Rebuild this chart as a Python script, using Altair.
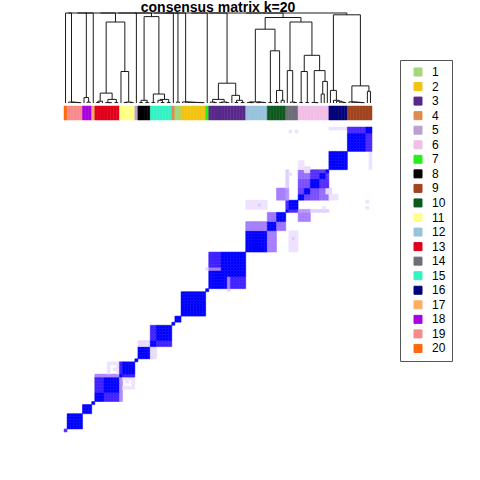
import altair as alt
import numpy as np
import pandas as pd

# ---------------- data ----------------
title_text = "consensus matrix k=20"
cluster_order = [20, 19, 18, 17, 13, 11, 5, 8, 15, 4, 1, 2, 7, 3, 12, 10, 14, 6, 16, 9]
cluster_sizes = [1, 5, 3, 1, 8, 5, 1, 4, 7, 1, 2, 8, 1, 12, 7, 6, 4, 10, 6, 8]

legend_ids = [str(i) for i in range(1, 21)]
legend_colors = ["#A4D67C", "#F2C311", "#58298B", "#DD8B4F", "#BBA0D2",
                 "#F2BEE6", "#27EE1B", "#000000", "#A1441F", "#0E5A1E",
                 "#FFFF88", "#99C3DD", "#E0001B", "#6E6E78", "#34F2C3",
                 "#03037A", "#FCAE62", "#A800E0", "#F88A8A", "#FF6A0B"]

# off-block / partial consensus patches: (row_from, row_to, col_from, col_to, value), symmetric
patches = [
    (0, 0, 0, 0, 0.85),
    (10, 12, 13, 17, 0.93),
    (18, 18, 10, 17, 0.50),
    (18, 18, 19, 22, 0.93),
    (19, 22, 14, 14, 0.12),
    (22, 22, 15, 17, 0.12),
    (20, 20, 16, 16, 0.12),
    (19, 21, 17, 17, 0.12),
    (28, 29, 24, 27, 0.15),
    (28, 29, 30, 34, 0.93),
    (54, 58, 47, 50, 0.93),
    (53, 53, 47, 50, 0.55),
    (53, 53, 46, 46, 0.15),
    (66, 68, 59, 65, 0.55),
    (69, 71, 66, 68, 0.60),
    (73, 75, 59, 65, 0.12),
    (74, 74, 63, 63, 0.22),
    (72, 72, 73, 75, 0.90),
    (76, 83, 72, 72, 0.45),
    (80, 85, 72, 72, 0.20),
    (76, 79, 69, 71, 0.55),
    (76, 77, 78, 79, 0.80),
    (80, 82, 76, 79, 0.75),
    (83, 85, 76, 79, 0.62),
    (83, 85, 80, 82, 0.88),
    (85, 85, 83, 84, 0.85),
    (85, 86, 78, 79, 0.15),
    (86, 88, 76, 77, 0.12),
    (84, 84, 73, 73, 0.12),
    (92, 97, 98, 99, 0.90),
    (99, 99, 86, 91, 0.12),
    (98, 98, 73, 73, 0.12),
    (98, 98, 75, 75, 0.12),
]

# dendrogram: leaf = 0, node = [height, left, right]
C20 = 0
C19 = [0.01, 0, [0.008, 0, [0.006, 0, [0.004, 0, 0]]]]
C18 = [0.06, 0, [0.01, 0, 0]]
C17 = 0
C13 = [0.11, [0.02, [0.005, 0, 0], 0], [0.04, [0.005, 0, [0.004, 0, 0]], [0.005, 0, 0]]]
C11 = [0.35, 0, [0.01, [0.005, 0, 0], [0.005, 0, 0]]]
C13_11 = [0.90, C13, C11]
C5 = 0
C8 = [0.03, [0.005, 0, 0], [0.005, 0, 0]]
C15 = [0.10, [0.005, 0, 0], [0.04, [0.03, 0, [0.005, 0, 0]], [0.005, 0, 0]]]
C8_15 = [0.96, C8, C15]
C4 = 0
C1 = [0.01, 0, 0]
C2 = [0.012, 0, [0.010, 0, [0.008, 0, [0.007, 0, [0.006, 0, [0.005, 0, [0.004, 0, 0]]]]]]]
C7 = 0
C3 = [0.22, [0.04, [0.01, 0, [0.005, 0, 0]], [0.01, [0.005, 0, 0], [0.005, 0, 0]]],
      [0.085, 0, [0.03, [0.005, 0, 0], [0.005, 0, 0]]]]
C12 = [0.012, [0.006, 0, [0.004, 0, 0]], [0.008, [0.004, 0, 0], [0.005, 0, 0]]]
C10 = [0.58, [0.005, 0, 0], [0.14, [0.005, 0, 0], [0.03, 0, 0]]]
C12_10 = [0.82, C12, C10]
C14 = [0.36, 0, [0.01, 0, [0.005, 0, 0]]]
C6 = [0.53, [0.35, [0.005, 0, 0], [0.005, 0, 0]],
      [0.36, [0.006, 0, [0.004, 0, 0]], [0.24, [0.10, 0, 0], 0]]]
C14_6 = [0.90, C14, C6]
G4 = [0.95, C12_10, C14_6]
C16 = [0.14, 0, [0.03, 0, [0.02, 0, [0.01, 0, [0.005, 0, 0]]]]]
C9 = [0.19, [0.012, 0, [0.01, 0, [0.008, 0, [0.006, 0, [0.004, 0, 0]]]]], [0.13, 0, 0]]
C16_9 = [0.98, C16, C9]
top_groups = [C20, C19, C18, C17, C13_11, C5, C8_15, C4, C1, C2, C7, C3, G4, C16_9]
root_height = 1.0

# ---------------- layout constants ----------------
N = sum(cluster_sizes)
PLOT_W, PLOT_H = 308, 419          # plot area (x 64..372, y 13..432)
HEAT_PX = 305                       # heatmap height in px
DEND_PX = 90                        # dendrogram height (h 0..1) in px

# ---------------- build tables ----------------
labels = []
for c, s in zip(cluster_order, cluster_sizes):
    labels += [c] * s

M = np.zeros((N, N))
start = 0
for s in cluster_sizes:
    M[start:start + s, start:start + s] = 1.0
    start += s
for r0, r1, c0, c1, v in patches:
    M[r0:r1 + 1, c0:c1 + 1] = v
    M[c0:c1 + 1, r0:r1 + 1] = v

cells = [dict(j0=j, j1=j + 1, i0=i, i1=i + 1, v=float(M[i, j]))
         for i in range(N) for j in range(N) if M[i, j] > 0]
cells_df = pd.DataFrame(cells)

bar_df = pd.DataFrame(dict(s0=list(range(N)), s1=[k + 1 for k in range(N)],
                           cl=[str(c) for c in labels]))

root = top_groups[0]
for g in top_groups[1:]:
    root = [root_height, root, g]

segs = []
counter = [0]


def layout(node):
    if not isinstance(node, list):
        p = counter[0] + 0.5
        counter[0] += 1
        return p, 0.0
    h, a, b = node
    pa, ha = layout(a)
    pb, hb = layout(b)
    segs.append(dict(x=pa, x2=pb, y=h, y2=h))
    segs.append(dict(x=pa, x2=pa, y=ha, y2=h))
    segs.append(dict(x=pb, x2=pb, y=hb, y2=h))
    return (pa + pb) / 2, h


layout(root)
assert counter[0] == N
seg_df = pd.DataFrame(segs)

# ---------------- chart ----------------
xscale = alt.Scale(domain=[0, N], nice=False, zero=False)
heat_scale = alt.Scale(domain=[0, 1], range=["#ffffff", "#0000ff"], interpolate="lab")

heat = alt.Chart(cells_df).mark_rect(strokeWidth=0.5).encode(
    x=alt.X("j0:Q", scale=xscale, axis=None),
    x2="j1:Q",
    y=alt.Y("i0:Q", scale=alt.Scale(domain=[0, N * PLOT_H / HEAT_PX], nice=False, zero=False), axis=None),
    y2="i1:Q",
    color=alt.Color("v:Q", scale=heat_scale, legend=None),
    stroke=alt.Stroke("v:Q", scale=heat_scale, legend=None),
)

bar = alt.Chart(bar_df).mark_rect(strokeWidth=0.5).encode(
    x=alt.X("s0:Q", scale=xscale, axis=None),
    x2="s1:Q",
    y=alt.value(93),
    y2=alt.value(107),
    color=alt.Color("cl:N", scale=alt.Scale(domain=legend_ids, range=legend_colors),
                    title=None,
                    legend=alt.Legend(orient="none", legendX=336, legendY=47,
                                      direction="vertical", symbolType="square",
                                      symbolSize=64, symbolStrokeColor="#333333",
                                      symbolStrokeWidth=1, labelFont="Liberation Sans",
                                      labelFontSize=12, labelColor="black",
                                      labelOffset=8, symbolOffset=6, padding=6,
                                      rowPadding=2.55, strokeColor="#555555",
                                      fillColor="white")),
    stroke=alt.Stroke("cl:N", scale=alt.Scale(domain=legend_ids, range=legend_colors), legend=None),
)

dend = alt.Chart(seg_df).mark_rule(color="#1a1a1a", strokeWidth=1).encode(
    x=alt.X("x:Q", scale=xscale, axis=None),
    x2="x2:Q",
    y=alt.Y("y:Q", scale=alt.Scale(domain=[1 - PLOT_H / DEND_PX, 1], nice=False, zero=False), axis=None),
    y2="y2:Q",
)

title = alt.Chart(pd.DataFrame({"t": [title_text]})).mark_text(
    font="Liberation Sans", fontSize=14, fontWeight="bold", color="black",
    align="center", baseline="alphabetic"
).encode(
    x=alt.datum(N / 2, scale=xscale),
    y=alt.value(-1),
    text="t:N",
)

chart = alt.layer(heat, bar, dend, title).resolve_scale(
    y="independent", color="independent", stroke="independent"
).properties(
    width=PLOT_W, height=PLOT_H,
    padding={"left": 64, "top": 13, "right": 108, "bottom": 48},
    autosize=alt.AutoSizeParams(type="none"),
).configure_view(strokeWidth=0)

chart.save("out.html", embed_options={"renderer": "svg", "actions": False})
